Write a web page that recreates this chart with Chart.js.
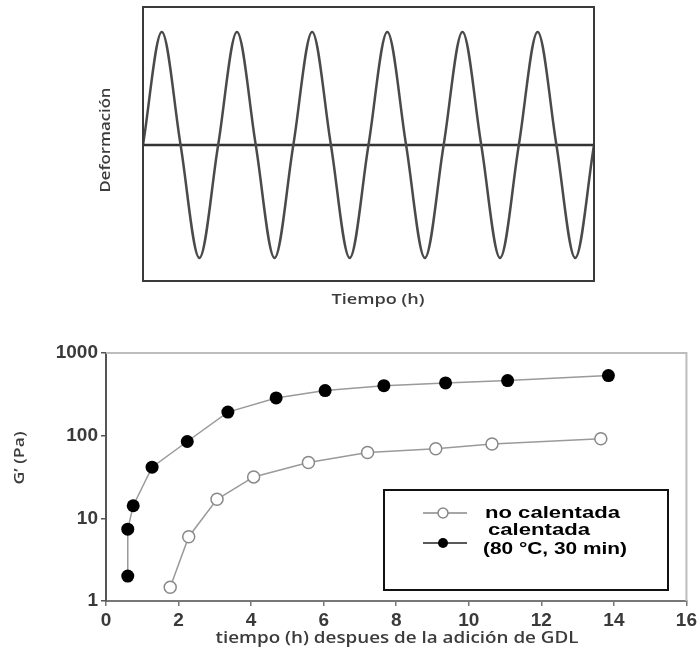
<!DOCTYPE html>
<html>
<head>
<meta charset="utf-8">
<script src="https://cdn.jsdelivr.net/npm/chart.js@4"></script>
<style>
  body { margin: 0; background: #fff; }
  canvas { display: block; }
</style>
</head>
<body>
<canvas id="wave" width="700" height="320"></canvas>
<canvas id="gel" width="700" height="332"></canvas>
<script>
// top panel: sinusoidal strain, read as zero / peak / trough points (6 cycles)
const sineT = [0, 0.25, 0.5, 0.75, 1, 1.25, 1.5, 1.75, 2, 2.25, 2.5, 2.75, 3,
  3.25, 3.5, 3.75, 4, 4.25, 4.5, 4.75, 5, 5.25, 5.5, 5.75, 6];
const sineY = [0, 1, 0, -1, 0, 1, 0, -1, 0, 1, 0, -1, 0,
  1, 0, -1, 0, 1, 0, -1, 0, 1, 0, -1, 0];
const baseT = [0, 6];
const baseY = [0, 0];

// bottom panel: G' (Pa) vs time (h) after GDL addition
const unheatedT = [1.77, 2.28, 3.06, 4.07, 5.58, 7.21, 9.09, 10.64, 13.64];
const unheatedG = [1.47, 6.0, 17.0, 31.7, 47.3, 62.5, 69.3, 79.1, 91.7];
const heatedT = [0.60, 0.60, 0.75, 1.27, 2.24, 3.36, 4.69, 6.04, 7.66, 9.36, 11.07, 13.85];
const heatedG = [2.0, 7.4, 14.2, 41.6, 85, 193, 286, 351, 403, 435, 464, 533];
const yTicks = [1, 10, 100, 1000];
const labels = ['no calentada', 'calentada', '(80 °C, 30 min)'];

const pts = (xs, ys) => xs.map((x, i) => ({ x: x, y: ys[i] }));

// draw text squeezed/stretched to a given width (the scan is stretched sideways)
function fitText(ctx, txt, x, y, w, rot) {
  const m = ctx.measureText(txt).width;
  ctx.save();
  ctx.translate(x, y);
  if (rot) ctx.rotate(rot);
  ctx.scale(w / m, 1);
  ctx.fillText(txt, 0, 0);
  ctx.restore();
}

const waveDeco = {
  id: 'waveDeco',
  afterDraw(chart) {
    const { ctx, chartArea: a } = chart;
    ctx.save();
    ctx.strokeStyle = '#3a3a3a';
    ctx.lineWidth = 2;
    ctx.strokeRect(a.left, a.top, a.right - a.left, a.bottom - a.top);
    ctx.fillStyle = '#3c3c3c';
    ctx.textAlign = 'center';
    ctx.textBaseline = 'middle';
    ctx.font = '600 15px "Open Sans"';
    fitText(ctx, 'Tiempo (h)', 378, 300, 93);
    ctx.font = '600 14px "Open Sans"';
    fitText(ctx, 'Deformación', 106, 140, 105, -Math.PI / 2);
    ctx.restore();
  }
};

new Chart(document.getElementById('wave'), {
  type: 'line',
  data: {
    datasets: [
      {
        data: pts(sineT, sineY),
        borderColor: '#4a4a4a',
        borderWidth: 2.5,
        pointRadius: 0,
        cubicInterpolationMode: 'monotone'
      },
      {
        data: pts(baseT, baseY),
        borderColor: '#333',
        borderWidth: 2.5,
        pointRadius: 0
      }
    ]
  },
  options: {
    responsive: false,
    animation: false,
    layout: { padding: { left: 143, right: 106, top: 7, bottom: 39 } },
    plugins: { legend: { display: false }, tooltip: { enabled: false } },
    scales: {
      x: { type: 'linear', min: 0, max: 6, display: false },
      y: { min: -1.204, max: 1.221, display: false }
    }
  },
  plugins: [waveDeco]
});

const gelDeco = {
  id: 'gelDeco',
  afterDraw(chart) {
    const { ctx, chartArea: a } = chart;
    ctx.save();
    // light top / right frame
    ctx.strokeStyle = '#bdbdbd';
    ctx.lineWidth = 2;
    ctx.beginPath();
    ctx.moveTo(a.left, a.top);
    ctx.lineTo(a.right, a.top);
    ctx.lineTo(a.right, a.bottom);
    ctx.stroke();

    // axis titles
    ctx.fillStyle = '#3c3c3c';
    ctx.textAlign = 'center';
    ctx.textBaseline = 'middle';
    ctx.font = '600 16px "Open Sans"';
    fitText(ctx, 'tiempo (h) despues de la adición de GDL', 397, 318, 363);
    ctx.font = '600 14px "Open Sans"';
    fitText(ctx, 'G’ (Pa)', 20, 138, 53, -Math.PI / 2);

    // legend box
    ctx.strokeStyle = '#111';
    ctx.lineWidth = 2;
    ctx.strokeRect(384, 170, 284, 100);

    ctx.lineWidth = 1.5;
    ctx.strokeStyle = '#888';
    ctx.beginPath(); ctx.moveTo(423, 193); ctx.lineTo(467, 193); ctx.stroke();
    ctx.beginPath(); ctx.arc(443, 193, 5, 0, Math.PI * 2);
    ctx.fillStyle = '#fff'; ctx.fill(); ctx.stroke();

    ctx.strokeStyle = '#222';
    ctx.beginPath(); ctx.moveTo(423, 223); ctx.lineTo(467, 223); ctx.stroke();
    ctx.beginPath(); ctx.arc(443, 223, 5, 0, Math.PI * 2);
    ctx.fillStyle = '#000'; ctx.fill();

    ctx.fillStyle = '#000';
    ctx.textAlign = 'left';
    ctx.font = 'bold 17px "Liberation Sans", Arial';
    fitText(ctx, labels[0], 485, 193, 135);
    ctx.font = 'bold 16px "Liberation Sans", Arial';
    fitText(ctx, labels[1], 488, 211, 102);
    fitText(ctx, labels[2], 483, 230, 144);
    ctx.restore();
  }
};

const tickFont = { family: '"Liberation Sans", Arial', size: 19, weight: 'bold' };

new Chart(document.getElementById('gel'), {
  type: 'line',
  data: {
    datasets: [
      {
        label: labels[0],
        data: pts(unheatedT, unheatedG),
        borderColor: '#9a9a9a',
        borderWidth: 1.5,
        pointRadius: 6,
        pointBorderWidth: 1.5,
        pointBorderColor: '#888',
        pointBackgroundColor: '#fff'
      },
      {
        label: labels[1] + ' ' + labels[2],
        data: pts(heatedT, heatedG),
        borderColor: '#9a9a9a',
        borderWidth: 1.5,
        pointRadius: 6.5,
        pointBorderWidth: 0,
        pointBackgroundColor: '#000'
      }
    ]
  },
  options: {
    responsive: false,
    animation: false,
    layout: { padding: { left: 0, right: 12, top: 33, bottom: 0 } },
    plugins: { legend: { display: false }, tooltip: { enabled: false } },
    scales: {
      x: {
        type: 'linear',
        min: 0,
        max: 16,
        afterFit: s => { s.height = 51; },
        grid: { drawOnChartArea: false, tickLength: 5, color: '#777', lineWidth: 1.5 },
        border: { color: '#777', width: 2 },
        ticks: { stepSize: 2, padding: 3, color: '#3a3a3a', font: tickFont }
      },
      y: {
        type: 'logarithmic',
        min: 1,
        max: 1000,
        afterFit: s => { s.width = 106; },
        afterBuildTicks: s => { s.ticks = yTicks.map(v => ({ value: v })); },
        grid: { drawOnChartArea: false, tickLength: 5, color: '#555', lineWidth: 1.5 },
        border: { color: '#555', width: 2 },
        ticks: { padding: 3, color: '#3a3a3a', font: tickFont, callback: v => String(v) }
      }
    }
  },
  plugins: [gelDeco]
});
</script>
</body>
</html>
